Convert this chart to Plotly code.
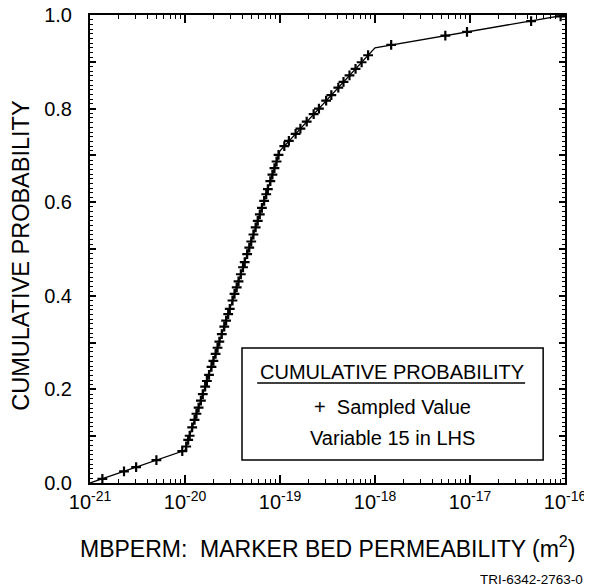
import plotly.graph_objects as go

# CDF line vertices
cdf_x = [1e-21, 1e-20, 1e-19, 1e-18, 1e-16]
cdf_y = [0.0, 0.07, 0.71, 0.93, 1.0]

# Sampled values (LHS, 70 samples)
sample_x = [1.35e-21, 2.28e-21, 3.06e-21, 5.0e-21, 9.36e-21,
            1.03e-20, 1.08e-20, 1.12e-20, 1.19e-20, 1.26e-20, 1.32e-20, 1.39e-20, 1.47e-20,
            1.54e-20, 1.63e-20, 1.70e-20, 1.79e-20, 1.90e-20, 1.99e-20, 2.10e-20, 2.20e-20,
            2.30e-20, 2.44e-20, 2.59e-20, 2.71e-20, 2.85e-20, 2.96e-20, 3.16e-20, 3.32e-20,
            3.50e-20, 3.66e-20, 3.87e-20, 4.08e-20, 4.25e-20, 4.51e-20, 4.75e-20, 4.98e-20,
            5.25e-20, 5.54e-20, 5.83e-20, 6.13e-20, 6.45e-20, 6.81e-20, 7.16e-20, 7.45e-20,
            7.91e-20, 8.32e-20, 8.74e-20, 9.20e-20, 9.65e-20,
            1.11e-19, 1.24e-19, 1.46e-19, 1.64e-19, 1.91e-19, 2.26e-19, 2.57e-19, 3.06e-19,
            3.47e-19, 4.11e-19, 4.66e-19, 5.39e-19, 6.24e-19, 7.23e-19, 8.46e-19,
            1.48e-18, 5.5e-18, 9.3e-18, 4.4e-17, 9.0e-17]
sample_y = [0.009, 0.025, 0.034, 0.049, 0.068,
            0.078, 0.092, 0.101, 0.119, 0.135, 0.148, 0.161, 0.176,
            0.190, 0.206, 0.218, 0.231, 0.248, 0.261, 0.276, 0.289,
            0.302, 0.318, 0.334, 0.347, 0.361, 0.372, 0.390, 0.404,
            0.418, 0.431, 0.446, 0.461, 0.472, 0.489, 0.503, 0.516,
            0.531, 0.546, 0.560, 0.574, 0.588, 0.603, 0.617, 0.628,
            0.645, 0.659, 0.673, 0.687, 0.701,
            0.720, 0.731, 0.746, 0.757, 0.772, 0.788, 0.800, 0.817,
            0.829, 0.845, 0.857, 0.871, 0.885, 0.899, 0.914,
            0.936, 0.956, 0.964, 0.987, 0.997]

x_tickvals = [1e-21, 1e-20, 1e-19, 1e-18, 1e-17, 1e-16]
x_ticktext = ["10<sup>-21</sup>", "10<sup>-20</sup>", "10<sup>-19</sup>",
              "10<sup>-18</sup>", "10<sup>-17</sup>", "10<sup>-16</sup>"]
y_tickvals = [0.0, 0.1, 0.2, 0.3, 0.4, 0.5, 0.6, 0.7, 0.8, 0.9, 1.0]
y_ticktext = ["0.0", "", "0.2", "", "0.4", "", "0.6", "", "0.8", "", "1.0"]

# minor tick positions (2..9 within each decade; every 0.01 in probability)
x_minor = [m * 10.0 ** e for e in range(-21, -16) for m in range(2, 10)]
y_minor = [i / 100 for i in range(101) if i % 10 != 0]

FONT = "Liberation Sans, Arial, Helvetica, sans-serif"

fig = go.Figure()
fig.add_trace(go.Scatter(x=cdf_x, y=cdf_y, mode="lines",
                         line=dict(color="black", width=1.3), showlegend=False))
fig.add_trace(go.Scatter(x=sample_x, y=sample_y, mode="markers",
                         marker=dict(symbol="cross-thin", size=7, color="black",
                                     line=dict(color="black", width=2.2)),
                         showlegend=False))

fig.update_layout(
    width=584, height=579,
    margin=dict(l=82, r=27, t=7, b=104, autoexpand=False),
    paper_bgcolor="white", plot_bgcolor="white",
    font=dict(family=FONT, color="black", size=20),
    showlegend=False,
)
fig.update_xaxes(
    type="log", range=[-21, -16], automargin=False, ticklabeloverflow="allow",
    tickmode="array", tickvals=x_tickvals, ticktext=x_ticktext,
    ticks="inside", ticklen=8, tickwidth=1.5, tickcolor="black",
    minor=dict(ticks="inside", ticklen=4, tickwidth=1, tickcolor="black",
               tickmode="array", tickvals=x_minor, showgrid=False),
    showline=True, linecolor="black", linewidth=2, mirror="ticks",
    showgrid=False, zeroline=False, tickfont=dict(size=20),
)
fig.update_yaxes(
    range=[0, 1], automargin=False, ticklabeloverflow="allow",
    tickmode="array", tickvals=y_tickvals, ticktext=y_ticktext,
    ticks="inside", ticklen=6, tickwidth=1.5, tickcolor="black",
    minor=dict(ticks="inside", ticklen=3, tickwidth=1, tickcolor="black",
               tickmode="array", tickvals=y_minor, showgrid=False),
    showline=True, linecolor="black", linewidth=2, mirror="ticks",
    showgrid=False, zeroline=False, tickfont=dict(size=20),
    ticklabelstandoff=12,
)

# legend box
fig.add_shape(type="rect", xref="paper", yref="paper", x0=0.32, x1=0.954, y0=0.049, y1=0.2885,
              line=dict(color="black", width=1.5), fillcolor="white", layer="above")
fig.add_shape(type="line", xref="paper", yref="paper", x0=0.352, x1=0.916, y0=0.2137, y1=0.2137,
              line=dict(color="black", width=1.3))
fig.add_annotation(xref="paper", yref="paper", x=0.636, y=0.238, text="CUMULATIVE PROBABILITY",
                   showarrow=False, font=dict(size=20), xanchor="center", yanchor="middle")
fig.add_annotation(xref="paper", yref="paper", x=0.636, y=0.162, text="+  Sampled Value",
                   showarrow=False, font=dict(size=20), xanchor="center", yanchor="middle")
fig.add_annotation(xref="paper", yref="paper", x=0.636, y=0.096, text="Variable 15 in LHS",
                   showarrow=False, font=dict(size=20), xanchor="center", yanchor="middle")

# axis titles
fig.add_annotation(xref="paper", yref="paper", x=-0.146, y=0.487, text="CUMULATIVE PROBABILITY",
                   showarrow=False, font=dict(size=23.5), textangle=-90,
                   xanchor="center", yanchor="middle")
fig.add_annotation(xref="paper", yref="paper", x=0.5, y=-0.137,
                   text="MBPERM:  MARKER BED PERMEABILITY (m<sup>2</sup>)",
                   showarrow=False, font=dict(size=23), xanchor="center", yanchor="middle")
fig.add_annotation(xref="paper", yref="paper", x=1.042, y=-0.207, text="TRI-6342-2763-0",
                   showarrow=False, font=dict(size=13.5), xanchor="right", yanchor="middle")

fig.write_html("out.html")
